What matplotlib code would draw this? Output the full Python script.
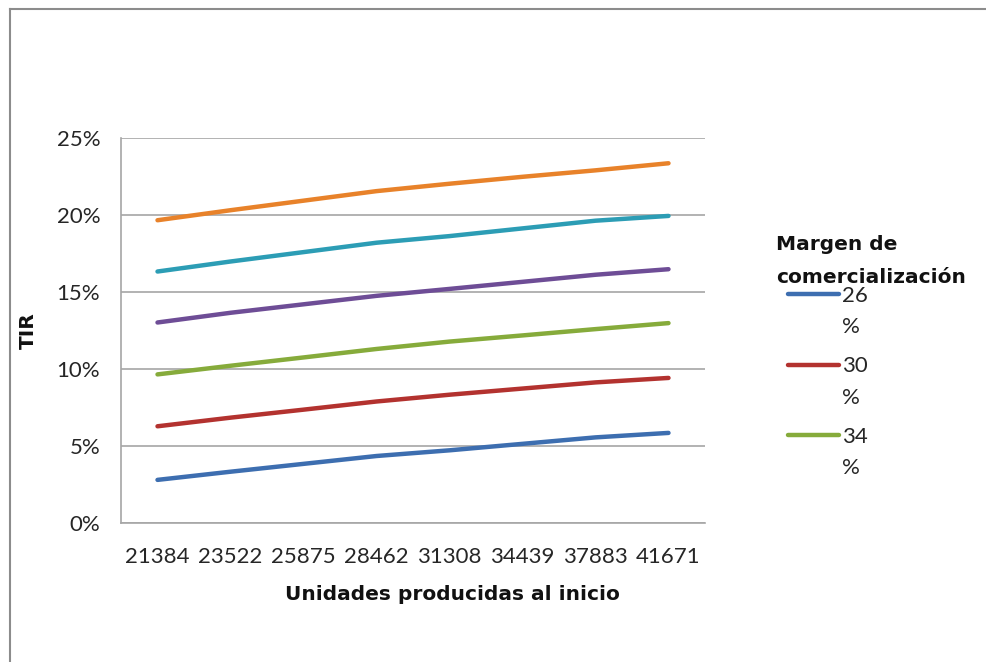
import matplotlib
matplotlib.use("Agg")
import matplotlib.pyplot as plt
from matplotlib.lines import Line2D
from matplotlib.ticker import FuncFormatter

plt.rcParams['font.family'] = ['Lato', 'DejaVu Sans']

# Units produced at start (category axis)
unidades = ["21384", "23522", "25875", "28462", "31308", "34439", "37883", "41671"]

# IRR (%) for each commercialization margin
tir_26 = [2.80, 3.33, 3.84, 4.35, 4.72, 5.14, 5.56, 5.85]
tir_30 = [6.28, 6.84, 7.36, 7.89, 8.33, 8.73, 9.13, 9.42]
tir_34 = [9.65, 10.21, 10.75, 11.30, 11.78, 12.18, 12.59, 12.98]
tir_38 = [13.02, 13.65, 14.20, 14.75, 15.20, 15.66, 16.12, 16.48]
tir_42 = [16.33, 16.98, 17.59, 18.20, 18.63, 19.13, 19.63, 19.94]
tir_46 = [19.66, 20.31, 20.93, 21.55, 22.03, 22.48, 22.90, 23.36]

margenes = ["26", "30", "34", "38", "42", "46"]
series = [tir_26, tir_30, tir_34, tir_38, tir_42, tir_46]
colores = ["#3D6EB0", "#B3322F", "#86AB3B", "#6E4D96", "#2C9DB5", "#E8822A"]

W, H = 987, 662
fig = plt.figure(figsize=(W / 100, H / 100), dpi=100)
ax = fig.add_axes([121 / W, 1 - 523 / H, (705 - 121) / W, (523 - 138) / H])

bold = dict(family='DejaVu Sans', weight='bold', size=14.5)
txt_col = "#262626"

x = list(range(len(unidades)))
for vals, col, lab in zip(series, colores, margenes):
    ax.plot(x, [v / 100 for v in vals], color=col, lw=3.2,
            solid_capstyle='round', label=lab + "%")

ax.set_xlim(-0.5, len(unidades) - 0.5)
ax.set_ylim(0, 0.25)
ax.set_yticks([0, 0.05, 0.10, 0.15, 0.20, 0.25])
ax.yaxis.set_major_formatter(FuncFormatter(lambda v, p: f"{v * 100:.0f}%"))
ax.set_xticks(x)
ax.set_xticklabels(unidades)

grid_col = "#A6A6A6"
ax.grid(axis='y', color=grid_col, lw=1.2)
ax.set_axisbelow(True)
for s in ["top", "right"]:
    ax.spines[s].set_visible(False)
for s in ["left", "bottom"]:
    ax.spines[s].set_color(grid_col)
    ax.spines[s].set_linewidth(1.2)
ax.tick_params(axis='y', length=0, labelsize=16, labelcolor=txt_col, pad=15)
ax.tick_params(axis='x', length=0, labelsize=16, labelcolor=txt_col, pad=17)

ax.set_xlabel("Unidades producidas al inicio", fontdict=bold, color="#111111", va='center')
ax.xaxis.set_label_coords((452 - 121) / 584, (523 - 594) / 385)
ax.set_ylabel("TIR", fontdict=bold, color="#111111", va='center')
ax.yaxis.set_label_coords((28 - 121) / 584, 0.5)

# Legend (only the first three entries fit in the legend box)
def fx(px):
    return px / W


def fy(py):
    return 1 - py / H


fig.text(fx(776), fy(250), "Margen de", fontdict=bold, color="#111111", va='baseline')
fig.text(fx(776), fy(283), "comercialización", fontdict=bold, color="#111111", va='baseline')
for i in range(3):
    y_line = 294 + 70.5 * i
    fig.add_artist(Line2D([fx(788), fx(839)], [fy(y_line), fy(y_line)],
                          transform=fig.transFigure, color=colores[i], lw=3.2,
                          solid_capstyle='round'))
    fig.text(fx(842), fy(y_line + 8), margenes[i], fontsize=16, color=txt_col, va='baseline')
    fig.text(fx(842), fy(y_line + 39), "%", fontsize=16, color=txt_col, va='baseline')

# Outer chart frame
fig.add_artist(Line2D([fx(10), fx(10)], [0, fy(9)], transform=fig.transFigure,
                      color="#8C8C8C", lw=1.5))
fig.add_artist(Line2D([fx(10), 1], [fy(9), fy(9)], transform=fig.transFigure,
                      color="#8C8C8C", lw=1.5))

fig.savefig("out.png", dpi=100)
